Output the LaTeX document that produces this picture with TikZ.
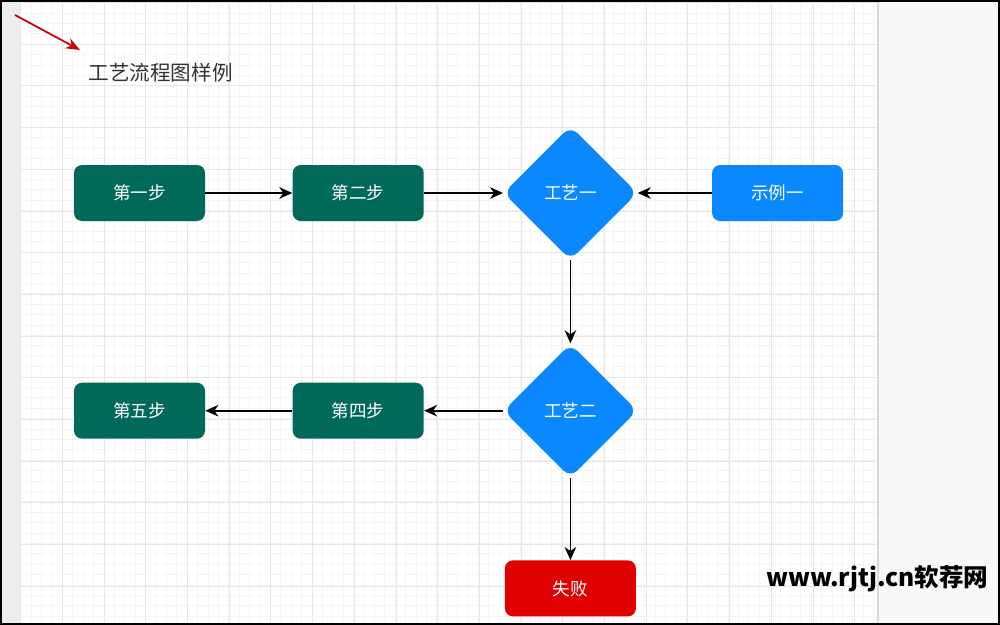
\documentclass[tikz,border=0pt]{standalone}
\usepackage{fontspec}
\setmainfont{Noto Sans CJK SC}
\usepackage{xcolor}
\usetikzlibrary{positioning,arrows.meta,shapes.geometric}
\definecolor{stepgreen}{HTML}{00695A}
\definecolor{procblue}{HTML}{0A88FF}
\definecolor{failred}{HTML}{E00000}
\definecolor{gridminor}{HTML}{F5F5F5}
\definecolor{gridmajor}{HTML}{E6E6E6}
\definecolor{sidepanel}{HTML}{F7F8F9}
\definecolor{titlegray}{HTML}{333333}

\begin{document}
\begin{tikzpicture}[
    stepbox/.style={fill=stepgreen, text=white, minimum width=2.62cm, minimum height=1.12cm, rounded corners=1.6mm, inner sep=0pt, font=\fontsize{10}{12}\selectfont},
    procbox/.style={diamond, fill=procblue, text=white, minimum width=2.68cm, minimum height=2.68cm, inner sep=0pt, rounded corners=2mm, font=\fontsize{10}{12}\selectfont},
    arr/.style={-{Stealth[length=2.6mm, width=2.3mm, inset=0.8mm]}, line width=0.95pt, draw=black}
]
    % frame and background
    \useasboundingbox (0,0) rectangle (20,-12.5);
    \fill[white] (0,0) rectangle (20,-12.5);
    \fill[black!7] (0,0) rectangle (0.41,-12.5);
    \fill[sidepanel] (17.56,0) rectangle (20,-12.5);
    \begin{scope}[shift={(0.414,-0.05)}]
        \draw[gridminor, line width=0.4pt, step=0.208cm] (0,0) grid (17.14,-12.4);
        \draw[gridmajor, line width=0.5pt, step=0.834cm] (0,0) grid (17.14,-12.4);
    \end{scope}
    \draw[black!15, line width=0.6pt] (17.56,0) -- (17.56,-12.5);
    \draw[black, line width=2pt] (0,0) rectangle (20,-12.5);

    % title and pointer
    \node[anchor=west, text=titlegray, font=\fontsize{11.7}{14}\selectfont] (title) at (1.65,-1.46) {工艺流程图样例};
    \coordinate (tail) at (0.30,-0.30);
    \coordinate (tip) at (1.60,-1.00);
    \draw[-{Stealth[length=2.8mm, width=2.2mm, inset=0.9mm]}, line width=1pt, draw=red!80!black] (tail) -- (tip);

    % first row
    \node[stepbox] (s1) at (2.79,-3.86) {第一步};
    \node[stepbox, right=1.74cm of s1] (s2) {第二步};
    \node[procbox, right=1.58cm of s2] (p1) {工艺一};
    \node[stepbox, fill=procblue, right=1.48cm of p1] (ex1) {示例一};

    % second row
    \node[procbox, below=1.66cm of p1] (p2) {工艺二};
    \node[stepbox, left=1.58cm of p2] (s4) {第四步};
    \node[stepbox, left=1.74cm of s4] (s5) {第五步};
    \node[stepbox, fill=failred, below=1.64cm of p2] (fail) {失败};

    \draw[arr] (s1) -- (s2);
    \draw[arr] (s2) -- (p1);
    \draw[arr] (ex1) -- (p1);
    \draw[arr] (p1) -- (p2);
    \draw[arr] (p2) -- (s4);
    \draw[arr] (s4) -- (s5);
    \draw[arr] (p2) -- (fail);

    \node[font=\bfseries\fontsize{14}{16}\selectfont] (mark) at (17.55,-11.58) {www.rjtj.cn软荐网};
\end{tikzpicture}
\end{document}
